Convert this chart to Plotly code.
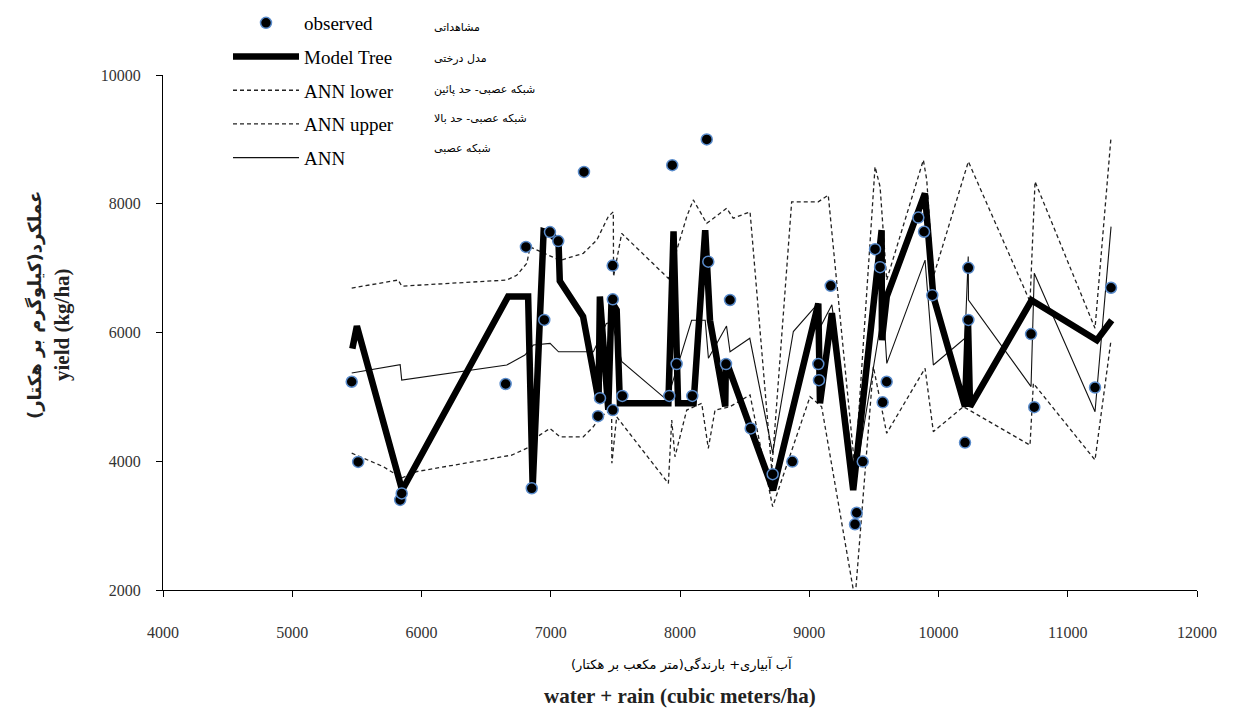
import plotly.graph_objects as go

# ---------------- data ----------------
obs_x = [5460, 5510, 5835, 5847, 6651, 6808, 6853, 6950, 6994, 7058, 7257, 7366, 7381,
         7479, 7480, 7480, 7554, 7917, 7940, 7974, 8095, 8207, 8219, 8356, 8387, 8547,
         8717, 8869, 9070, 9075, 9166, 9354, 9367, 9414, 9509, 9548, 9568, 9599, 9844,
         9888, 9952, 10205, 10231, 10231, 10716, 10741, 11211, 11335]
obs_y = [5235, 3990, 3400, 3500, 5200, 7330, 3580, 6195, 7560, 7420, 8495, 4700, 4980,
         7040, 6515, 4795, 5015, 5015, 8600, 5510, 5015, 9000, 7100, 5510, 6505, 4510,
         3800, 3995, 5510, 5260, 6725, 3020, 3200, 3995, 7295, 7015, 4915, 5235, 7785,
         7565, 6580, 4290, 7005, 6195, 5975, 4840, 5145, 6695]

mt_x = [5465, 5500, 5850, 6670, 6825, 6860, 6945, 6995, 7060, 7070, 7250, 7370, 7380,
        7445, 7470, 7510, 7535, 7910, 7950, 7985, 8105, 8195, 8232, 8350, 8355, 8720,
        9070, 9083, 9175, 9340, 9560, 9562, 9600, 9895, 9960, 10205, 10228, 10244,
        10720, 11225, 11340]
mt_y = [5750, 6100, 3550, 6560, 6560, 3600, 7570, 7540, 7410, 6800, 6250, 4950, 6560,
        4800, 6480, 6350, 4900, 4900, 7570, 4900, 4900, 7590, 6190, 4850, 5570, 3550,
        6450, 4900, 6300, 3550, 7590, 5880, 6560, 8160, 6560, 4850, 6190, 4850,
        6500, 5880, 6190]

ann_x = [5460, 5835, 5847, 6660, 6800, 6865, 6995, 7060, 7330, 7430, 7474, 7550, 7900,
         8090, 8195, 8220, 8360, 8387, 8540, 8717, 8877, 9070, 9090, 9175, 9355, 9573,
         9600, 9896, 9960, 10205, 10230, 10232, 10716, 10741, 11211, 11335]
ann_y = [5370, 5500, 5260, 5495, 5650, 5805, 5830, 5700, 5700, 6140, 6160, 5545, 4950,
         6190, 6190, 5600, 6100, 5700, 5910, 4125, 6015, 6455, 6100, 6430, 3710, 6400,
         5520, 7125, 5495, 5910, 7180, 6505, 5160, 6920, 4770, 7645]

low_x = [5460, 5705, 5847, 5963, 6698, 6840, 6917, 6994, 7072, 7252, 7329, 7381, 7471,
         7473, 7510, 7910, 7936, 7961, 8052, 8168, 8219, 8271, 8387, 8542, 8717, 9006,
         9096, 9354, 9496, 9599, 9896, 9960, 10192, 10708, 10734, 11211, 11335]
low_y = [4125, 3915, 3740, 3840, 4095, 4225, 4410, 4510, 4380, 4380, 4535, 4690, 4795,
         3970, 4690, 3655, 4640, 4070, 4795, 4900, 4200, 4795, 4847, 5030, 3295, 5003,
         4847, 1850, 5470, 4435, 5445, 4460, 4847, 4250, 5210, 4020, 5885]

up_x = [5460, 5820, 5847, 6660, 6737, 6815, 6840, 7072, 7252, 7356, 7445, 7484, 7486,
        7549, 7910, 8052, 8103, 8207, 8361, 8412, 8542, 8710, 8864, 9070, 9147, 9354,
        9509, 9548, 9599, 9883, 9909, 9960, 10231, 10708, 10747, 11211, 11335]
up_y = [6690, 6815, 6720, 6815, 6890, 7075, 7330, 7120, 7230, 7435, 7800, 7875, 6870,
        7540, 6840, 7800, 8060, 7695, 7930, 7775, 7875, 3865, 8030, 8030, 8135, 3865,
        8575, 8265, 6815, 8680, 8370, 6867, 8655, 6480, 8345, 6065, 9040]

legend_en = ["observed", "Model Tree", "ANN lower", "ANN upper", "ANN"]
legend_fa = ["مشاهداتی", "مدل درختی", "شبکه عصبی- حد پائین", "شبکه عصبی- حد بالا", "شبکه عصبی"]
x_ticks = [4000, 5000, 6000, 7000, 8000, 9000, 10000, 11000, 12000]
y_ticks = [2000, 4000, 6000, 8000, 10000]
x_title_fa = "آب آبیاری+ بارندگی(متر مکعب بر هکتار)"
x_title_en = "water + rain (cubic meters/ha)"
y_title_fa = "عملکرد(کیلوگرم بر هکتار)"
y_title_en = "yield (kg/ha)"

SERIF = "Liberation Serif, Times New Roman, serif"
FA = "DejaVu Sans, Noto Sans, sans-serif"

# page body has an 8px margin; plot area should span x 163..1197, y 75..590 on screen
OFF = 8
PL, PT, PW, PH = 163, 75, 1034, 515


def px_x(p):
    return (p - PL) / PW


def px_y(p):
    return 1 - (p - PT) / PH


fig = go.Figure()
fig.add_trace(go.Scatter(x=low_x, y=low_y, mode="lines", name=legend_en[2],
                         line=dict(color="#222", width=1.3, dash="4px,3px"),
                         legendgroup="c", legendrank=3))
fig.add_trace(go.Scatter(x=up_x, y=up_y, mode="lines", name=legend_en[3],
                         line=dict(color="#222", width=1.3, dash="4px,3px"),
                         legendgroup="d", legendrank=4))
fig.add_trace(go.Scatter(x=ann_x, y=ann_y, mode="lines", name=legend_en[4],
                         line=dict(color="#111", width=1.1),
                         legendgroup="e", legendrank=5))
fig.add_trace(go.Scatter(x=mt_x, y=mt_y, mode="lines", name=legend_en[1],
                         line=dict(color="black", width=6.5),
                         legendgroup="b", legendrank=2))
fig.add_trace(go.Scatter(x=obs_x, y=obs_y, mode="markers", name=legend_en[0],
                         marker=dict(color="black", size=11,
                                     line=dict(color="#5a8ccc", width=1.5)),
                         legendgroup="a", legendrank=1))

annotations = []
fa_y = [27, 58, 89, 118, 148]
for t, py in zip(legend_fa, fa_y):
    annotations.append(dict(text=t, xref="paper", yref="paper",
                            x=px_x(432), y=px_y(py),
                            xanchor="left", yanchor="middle", showarrow=False,
                            font=dict(family=FA, size=11, color="black")))
annotations += [
    dict(text="<b>" + y_title_fa + "</b>", xref="paper", yref="paper", x=px_x(35),
         y=px_y(305), textangle=-90, showarrow=False, xanchor="center", yanchor="middle",
         font=dict(family=FA, size=18, color="#222")),
    dict(text="<b>" + y_title_en + "</b>", xref="paper", yref="paper",
         x=px_x(62), y=px_y(325), textangle=-90, showarrow=False,
         xanchor="center", yanchor="middle",
         font=dict(family=SERIF, size=21, color="#222")),
    dict(text=x_title_fa, xref="paper", yref="paper", x=px_x(682), y=px_y(664),
         showarrow=False, xanchor="center", yanchor="middle",
         font=dict(family=FA, size=13, color="black")),
    dict(text="<b>" + x_title_en + "</b>", xref="paper", yref="paper", x=px_x(680),
         y=px_y(696), showarrow=False, xanchor="center", yanchor="middle",
         font=dict(family=SERIF, size=21, color="#222")),
]

fig.update_layout(
    width=1236 - OFF, height=715 - OFF,
    margin=dict(l=PL - OFF, r=1236 - PL - PW, t=PT - OFF, b=715 - PT - PH,
                autoexpand=False),
    paper_bgcolor="white", plot_bgcolor="white",
    font=dict(family=SERIF, size=16, color="#333"),
    showlegend=True,
    legend=dict(x=px_x(228), y=px_y(4), xanchor="left", yanchor="top",
                bgcolor="rgba(0,0,0,0)", tracegroupgap=6, itemwidth=66,
                font=dict(family=SERIF, size=19, color="black")),
    xaxis=dict(range=[4000, 12000], tickvals=x_ticks, ticktext=[str(v) for v in x_ticks],
               showgrid=False, zeroline=False,
               showline=True, linecolor="black", linewidth=1, ticks="outside",
               ticklen=6, tickcolor="black", ticklabelstandoff=22,
               tickfont=dict(family=SERIF, size=16, color="#333")),
    yaxis=dict(range=[2000, 10000], tickvals=y_ticks, ticktext=[str(v) for v in y_ticks],
               showgrid=False, zeroline=False,
               showline=True, linecolor="black", linewidth=1, ticks="outside",
               ticklen=6, tickcolor="black", ticklabelstandoff=12,
               tickfont=dict(family=SERIF, size=16, color="#333")),
    annotations=annotations,
)

fig.write_html("out.html")
